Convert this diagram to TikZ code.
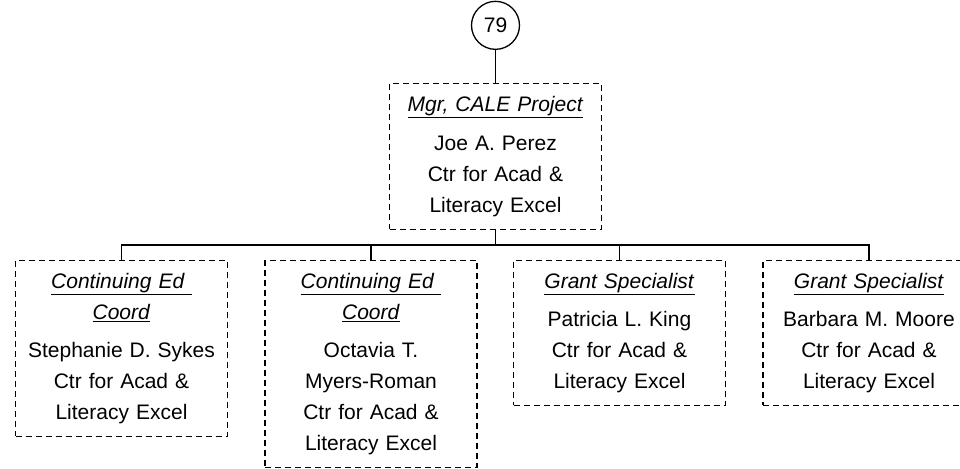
\documentclass[tikz,border=0pt]{standalone}
\usepackage{fontspec}
\setmainfont{Liberation Sans}
\usetikzlibrary{positioning}

\newcommand{\jobtitle}[1]{\underline{\textit{#1}}}

\begin{document}
\begin{tikzpicture}
    [
        x=1pt, y=1pt,
        node distance=33pt,
        post/.style={draw, dash pattern=on 6pt off 4pt, line width=1.4pt, text width=200pt, align=center, inner xsep=6pt, inner ysep=12.5pt, anchor=north, font=\fontsize{21}{31}\selectfont},
        pageref/.style={draw, circle, minimum size=48pt, inner sep=0pt, line width=1.3pt, font=\fontsize{21}{25}\selectfont},
        link/.style={line width=1.5pt}
    ]
        \useasboundingbox (0,0) rectangle (960,468);
        % =========================================================================
        % NODES
        % =========================================================================
        % --- Row 1 ---
        \node [post] (mgr) at (495.5,385) {\jobtitle{Mgr, CALE Project}\\[8pt]
            Joe A. Perez\\ Ctr for Acad \&\\ Literacy Excel};
        \node [pageref, above=of mgr] (page) {79};
        % --- Row 2 ---
        \node [post] (coordA) at (121.5,208) {\jobtitle{Continuing Ed\ }\\ \jobtitle{Coord}\\[7pt]
            Stephanie D. Sykes\\ Ctr for Acad \&\\ Literacy Excel};
        \node [post] (coordB) at (371,208) {\jobtitle{Continuing Ed\ }\\ \jobtitle{Coord}\\[7pt]
            Octavia T.\\ Myers-Roman\\ Ctr for Acad \&\\ Literacy Excel};
        \node [post] (grantA) at (619.5,208) {\jobtitle{Grant Specialist}\\[7pt]
            Patricia L. King\\ Ctr for Acad \&\\ Literacy Excel};
        \node [post] (grantB) at (869,208) {\jobtitle{Grant Specialist}\\[7pt]
            Barbara M. Moore\\ Ctr for Acad \&\\ Literacy Excel};
        \coordinate (bus) at (495.5,223);

        % =========================================================================
        % PATHS
        % =========================================================================
        % --- VERTICAL ---
        \draw [link] (page) -- (mgr);
        % --- BUS TO ROW 2 ---
        \draw [link] (mgr.south) -- (bus) -| (coordA.north);
        \draw [link] (mgr.south) -- (bus) -| (coordB.north);
        \draw [link] (mgr.south) -- (bus) -| (grantA.north);
        \draw [link] (mgr.south) -- (bus) -| (grantB.north);

    \end{tikzpicture}
\end{document}
